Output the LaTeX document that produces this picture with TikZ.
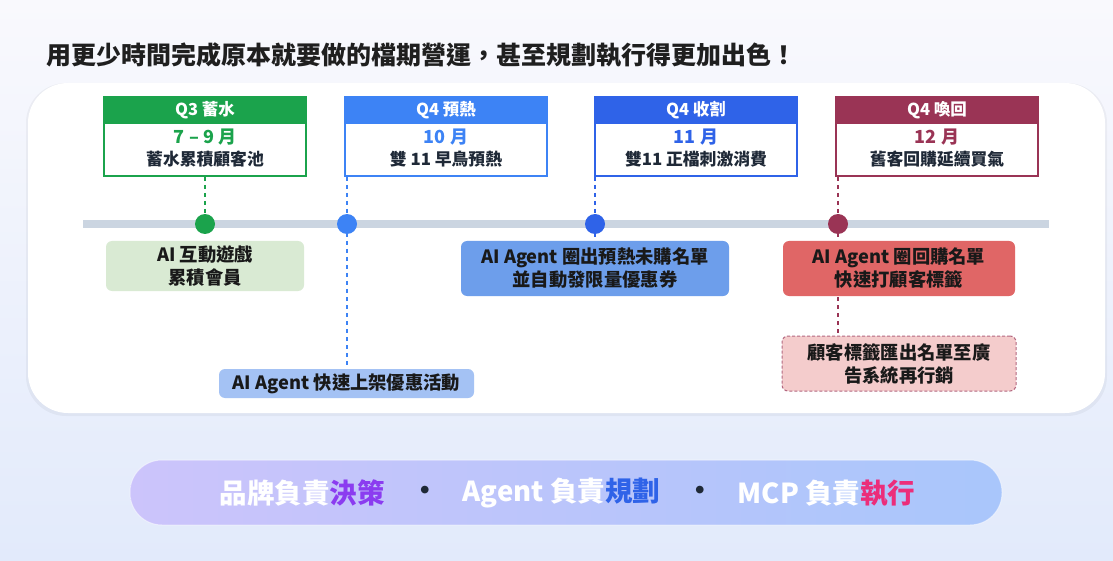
\documentclass[tikz,border=0pt]{standalone}
\usepackage{fontspec}
\setmainfont{Noto Sans CJK TC}
\usetikzlibrary{calc}
\definecolor{cg}{HTML}{1BA34C}
\definecolor{cb}{HTML}{3D83F5}
\definecolor{cdb}{HTML}{2F63E8}
\definecolor{cmar}{HTML}{9A3455}
\definecolor{tlc}{HTML}{CBD5E1}
\definecolor{lg}{HTML}{D9EAD3}
\definecolor{bb}{HTML}{6D9EEB}
\definecolor{rb}{HTML}{E06666}
\definecolor{lb}{HTML}{A4C2F4}
\definecolor{pk}{HTML}{F4CCCC}
\definecolor{txt}{HTML}{1F2937}
\definecolor{bgtop}{HTML}{F9F9FD}
\definecolor{bgbot}{HTML}{E2EAFB}
\definecolor{pl}{HTML}{CCC4FB}
\definecolor{pr}{HTML}{A9C6FB}
\definecolor{cpur}{HTML}{8B3CF0}
\definecolor{cpink}{HTML}{EC2D7A}
\pgfdeclarelayer{back}
\pgfdeclarelayer{connl}
\pgfsetlayers{back,connl,main}
\begin{document}
\begin{tikzpicture}[x=1pt,y=-1pt,
  hdr/.style={rectangle, minimum width=202pt, minimum height=26pt, inner sep=0pt, text=white, line width=2pt,
    font={\bfseries\fontsize{16.5}{20}\selectfont}},
  bodybox/.style={rectangle, fill=white, minimum width=202pt, minimum height=79pt, inner sep=0pt, line width=2pt},
  mon/.style={inner sep=0pt, font={\bfseries\fontsize{18}{21}\selectfont}},
  desc/.style={inner sep=0pt, text=txt, font={\bfseries\fontsize{16.8}{20}\selectfont}},
  tdot/.style={circle, minimum size=20pt, inner sep=0pt},
  note/.style={rectangle, rounded corners=6pt, inner sep=0pt, align=center, text=black!90,
    font={\bfseries\fontsize{18.3}{23}\selectfont}},
  conn/.style={line width=1.6pt, dash pattern=on 4pt off 4pt},
  big/.style={inner sep=0pt, text=white, font={\bfseries\fontsize{27.5}{32}\selectfont}}
]
\useasboundingbox (0,0) rectangle (1113,561);
\begin{pgfonlayer}{back}
\shade[top color=bgtop, bottom color=bgbot] (0,0) rectangle (1113,561);
\fill[black, opacity=0.04, rounded corners=40pt] (26,83) rectangle (1107,416);
\fill[white, rounded corners=40pt] (28,83) rectangle (1105,413);
\end{pgfonlayer}
% title
\node[anchor=west, inner sep=0pt, text=black!88, font={\bfseries\fontsize{25}{29}\selectfont}] (title) at (46,55)
  {用更少時間完成原本就要做的檔期營運，甚至規劃執行得更加出色！};
% timeline
\coordinate (tl1) at (83,224);
\coordinate (tl2) at (1049,224);
\draw[tlc, line width=8pt] (tl1) -- (tl2);
% top boxes
\node[bodybox, draw=cg, anchor=north] (b1) at (205,96) {};
\node[hdr, fill=cg, draw=cg, anchor=north] (h1) at (205,96) {Q3 蓄水};
\node[mon, text=cg] (m1) at (205,137) {7 – 9 月};
\node[desc] (d1) at (205,159) {蓄水累積顧客池};

\node[bodybox, draw=cb, anchor=north] (b2) at (446,96) {};
\node[hdr, fill=cb, draw=cb, anchor=north] (h2) at (446,96) {Q4 預熱};
\node[mon, text=cb] (m2) at (446,137) {10 月};
\node[desc] (d2) at (446,159) {雙 11 早鳥預熱};

\node[bodybox, draw=cdb, anchor=north] (b3) at (696,96) {};
\node[hdr, fill=cdb, draw=cdb, anchor=north] (h3) at (696,96) {Q4 收割};
\node[mon, text=cdb] (m3) at (696,137) {11 月};
\node[desc] (d3) at (696,159) {雙11 正檔刺激消費};

\node[bodybox, draw=cmar, anchor=north] (b4) at (937,96) {};
\node[hdr, fill=cmar, draw=cmar, anchor=north] (h4) at (937,96) {Q4 喚回};
\node[mon, text=cmar] (m4) at (937,137) {12 月};
\node[desc] (d4) at (937,159) {舊客回購延續買氣};
% dots
\node[tdot, fill=cg] (p1) at (205,224) {};
\node[tdot, fill=cb] (p2) at (347,224) {};
\node[tdot, fill=cdb] (p3) at (595,224) {};
\node[tdot, fill=cmar] (p4) at (838,224) {};
% notes
\node[note, fill=lg, minimum width=198pt, minimum height=50pt] (n1) at (205,266) {AI 互動遊戲\\累積會員};
\node[note, fill=bb, minimum width=268pt, minimum height=55pt] (n3) at (595,268.5) {AI Agent 圈出預熱未購名單\\並自動發限量優惠券};
\node[note, fill=rb, minimum width=232pt, minimum height=55pt] (n4) at (899,268.5) {AI Agent 圈回購名單\\快速打顧客標籤};
\node[note, fill=lb, minimum width=255pt, minimum height=29pt] (n2) at (346.5,383.5) {AI Agent 快速上架優惠活動};
\node[note, fill=pk, draw=cmar!75, line width=1pt, dash pattern=on 3pt off 2pt, minimum width=234pt, minimum height=55pt] (n5) at (899,363.5) {顧客標籤匯出名單至廣\\告系統再行銷};
% connectors
\begin{pgfonlayer}{connl}
\draw[conn, cg] (b1.south) -- (p1);
\draw[conn, cb] (b2.south -| p2) -- (n2.north -| p2);
\draw[conn, cdb] (b3.south -| p3) -- (n3.north -| p3);
\draw[conn, cmar] (b4.south -| p4) -- (n5.north -| p4);
\end{pgfonlayer}
% bottom pill
\shade[left color=pl, right color=pr, rounded corners=32pt] (130,460) rectangle (1002,525);
\draw[white, opacity=0.5, line width=1pt, rounded corners=32pt] (130,460) rectangle (1002,525);
\node[big] (s1) at (302,493) {品牌負責\textcolor{cpur}{決策}};
\node[big, text=txt] (dt1) at (425,493) {•};
\node[big] (s2) at (561.5,493) {Agent 負責\textcolor{cdb}{規劃}};
\node[big, text=txt] (dt2) at (700,493) {•};
\node[big] (s3) at (826.5,493) {MCP 負責\textcolor{cpink}{執行}};
\end{tikzpicture}
\end{document}
